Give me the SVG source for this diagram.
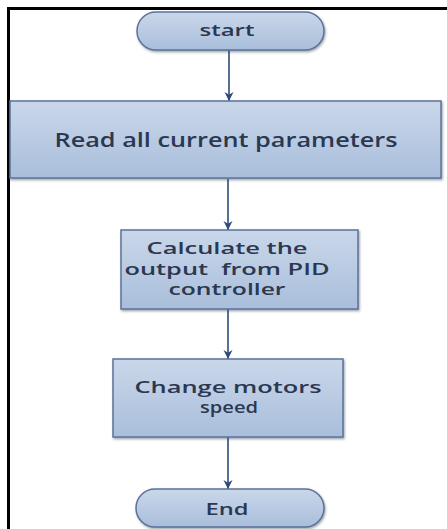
<svg xmlns="http://www.w3.org/2000/svg" width="447" height="529" viewBox="0 0 447 529">
<style>
.box{fill:url(#g);stroke:#5b7399;stroke-width:1.5;filter:url(#sh)}
.lbl{font-family:"Open Sans","Liberation Sans",sans-serif;font-weight:600;fill:#2a3850;text-anchor:middle}
.con{stroke:#2f4b78;stroke-width:1.6;fill:none;marker-end:url(#ah)}
</style>
<defs>
<linearGradient id="g" x1="0" y1="0" x2="0" y2="1">
<stop offset="0" stop-color="#cad7ea"/>
<stop offset="1" stop-color="#a9bedb"/>
</linearGradient>
<filter id="sh" x="-5%" y="-10%" width="110%" height="125%">
<feDropShadow dx="1" dy="1.5" stdDeviation="1" flood-color="#3a4a60" flood-opacity="0.5"/>
</filter>
<marker id="ah" viewBox="0 0 10 10" refX="10" refY="5" markerWidth="9" markerHeight="10" orient="auto" markerUnits="userSpaceOnUse">
<path d="M0,0 L10,5 L0,10 L3,5 Z" fill="#2f4b78"/>
</marker>
</defs>
<rect width="447" height="529" fill="#ffffff"/>
<path d="M8.5,529 L8.5,8.5 L447,8.5" fill="none" stroke="#000" stroke-width="3"/>
<g id="connectors">
<line class="con" x1="229" y1="50" x2="229" y2="101"/>
<line class="con" x1="228" y1="179" x2="228" y2="230"/>
<line class="con" x1="228" y1="309" x2="228" y2="359"/>
<line class="con" x1="228" y1="437" x2="228" y2="489"/>
</g>
<g id="start">
<rect class="box" x="137" y="12" width="187" height="38" rx="19"/>
<text class="lbl" x="227" y="36" font-size="16" textLength="55" lengthAdjust="spacingAndGlyphs">start</text>
</g>
<g id="read">
<rect class="box" x="10" y="101" width="431" height="77"/>
<text class="lbl" x="226" y="147" font-size="19" textLength="343" lengthAdjust="spacingAndGlyphs">Read all current parameters</text>
</g>
<g id="calc">
<rect class="box" x="121" y="230" width="237" height="79"/>
<text class="lbl" x="227" y="254" font-size="16" textLength="161" lengthAdjust="spacingAndGlyphs">Calculate the</text>
<text class="lbl" x="227" y="275" font-size="16" textLength="205" lengthAdjust="spacingAndGlyphs" xml:space="preserve">output  from PID</text>
<text class="lbl" x="227" y="295" font-size="16" textLength="117" lengthAdjust="spacingAndGlyphs">controller</text>
</g>
<g id="change">
<rect class="box" x="113" y="359" width="230" height="78"/>
<text class="lbl" x="228" y="393" font-size="16" textLength="187" lengthAdjust="spacingAndGlyphs">Change motors</text>
<text class="lbl" x="229" y="413" font-size="16" textLength="58" lengthAdjust="spacingAndGlyphs">speed</text>
</g>
<g id="end">
<rect class="box" x="136" y="489" width="188" height="38" rx="19"/>
<text class="lbl" x="227" y="515" font-size="16" textLength="43" lengthAdjust="spacingAndGlyphs">End</text>
</g>
</svg>
